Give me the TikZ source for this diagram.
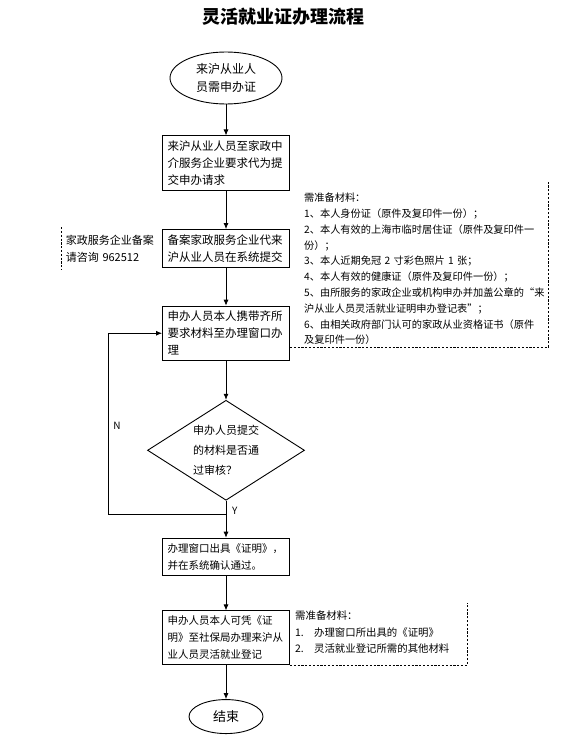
\documentclass[tikz,border=0pt]{standalone}
\usepackage{fontspec}
\setmainfont{Noto Sans CJK SC}
\usetikzlibrary{arrows.meta,positioning,shapes.geometric,calc}
\tikzset{
  box/.style={draw,line width=0.9pt,align=left,text width=117pt,inner xsep=5pt,inner ysep=5pt,font=\fontsize{11.5}{17}\selectfont},
  term/.style={draw,ellipse,line width=0.9pt,align=center,inner sep=0pt,font=\fontsize{12}{18}\selectfont},
  gate/.style={draw,diamond,line width=0.9pt,align=left,inner sep=0pt,aspect=1.57,minimum width=157pt,minimum height=100pt,font=\fontsize{11}{20}\selectfont},
  note/.style={align=left,inner sep=2pt,font=\fontsize{10.2}{15.8}\selectfont},
  arr/.style={-{Latex[length=6pt,width=5pt]},line width=0.8pt},
  dashln/.style={line width=0.7pt,dash pattern=on 2.2pt off 1.6pt},
  lbl/.style={font=\fontsize{10}{10}\selectfont,inner sep=1pt}
}
\newcommand{\itm}[1]{\makebox[19pt][l]{#1}}

\begin{document}
\begin{tikzpicture}[x=1pt,y=-1pt,node distance=38pt]
\useasboundingbox (0,0) rectangle (565,746);
\node[font=\fontsize{18}{18}\selectfont\bfseries] (title) at (283,17) {灵活就业证办理流程};
\node[term,minimum width=112pt,minimum height=52pt] (start) at (226,78) {来沪从业人\\员需申办证};
\node[box,below=31pt of start] (apply) {来沪从业人员至家政中\\介服务企业要求代为提\\交申办请求};
\node[box,below=of apply] (submit) {备案家政服务企业代来\\沪从业人员在系统提交};
\node[box,below=of submit] (visit) {申办人员本人携带齐所\\要求材料至办理窗口办\\理};
\node[gate,below=39pt of visit] (check) {申办人员提交\\的材料是否通\\过审核？};
\node[box,below=37pt of check,font=\fontsize{10.5}{17}\selectfont] (issue) {办理窗口出具《证明》，\\并在系统确认通过。};
\node[box,below=35pt of issue,font=\fontsize{10.5}{17}\selectfont] (register) {申办人员本人可凭《证\\明》至社保局办理来沪从\\业人员灵活就业登记};
\node[term,below=34pt of register,minimum width=74pt,minimum height=34pt,font=\fontsize{13}{13}\selectfont] (end) {结束};
\node[note,anchor=east,text width=92pt,inner xsep=4pt,minimum height=42pt,font=\fontsize{11}{17}\selectfont] (inquiry) at (submit.west) {家政服务企业备案\\请咨询 962512};
\node[note,anchor=north west,text width=242pt] (docs) at (302,191) {需准备材料：\\1、本人身份证（原件及复印件一份）；\\2、本人有效的上海市临时居住证（原件及复印件一\\份）；\\3、本人近期免冠 2 寸彩色照片 1 张；\\4、本人有效的健康证（原件及复印件一份）；\\5、由所服务的家政企业或机构申办并加盖公章的“来\\沪从业人员灵活就业证明申办登记表”；\\6、由相关政府部门认可的家政从业资格证书（原件\\及复印件一份）};
\node[note,anchor=north west,text width=170pt,font=\fontsize{10.4}{16.5}\selectfont] (extra) at (293,609) {需准备材料：\\\itm{1.}办理窗口所出具的《证明》\\\itm{2.}灵活就业登记所需的其他材料};
\coordinate (back) at ($(check.south)+(0,14)$);
\node[lbl,anchor=west] (yes) at ([xshift=5pt,yshift=4pt]back) {Y};
\node[lbl] (no) at ([xshift=-30pt,yshift=24pt]check.west) {N};
\draw[arr] (start)--(apply); \draw[arr] (apply)--(submit); \draw[arr] (submit)--(visit);
\draw[arr] (visit)--(check); \draw[arr] (check)--(issue); \draw[arr] (issue)--(register);
\draw[arr] (register)--(end);
\draw[arr] (back) -- ++(-118,0) |- (visit.west);
\draw[dashln] (inquiry.north west)--(inquiry.south west);
\draw[dashln] (visit.east |- docs.south) -| ([yshift=9pt]docs.north east);
\draw[dashln] (register.south east) -| ([yshift=6pt]extra.north east);
\end{tikzpicture}
\end{document}
